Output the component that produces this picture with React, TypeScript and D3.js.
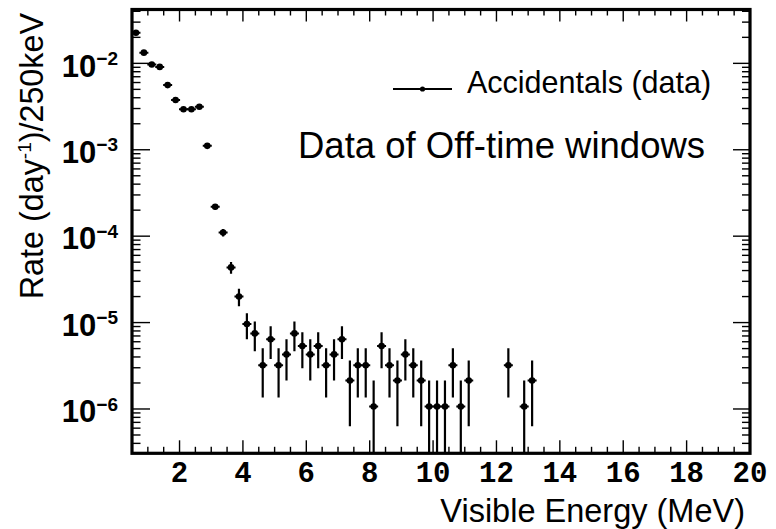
import React from "react";
import * as d3 from "d3";

const energy = [
  0.625, 0.875, 1.125, 1.375, 1.625, 1.875, 2.125, 2.375, 2.625, 2.875,
  3.125, 3.375, 3.625, 3.875, 4.125, 4.375, 4.625, 4.875, 5.125, 5.375,
  5.625, 5.875, 6.125, 6.375, 6.625, 6.875, 7.125, 7.375, 7.625, 7.875,
  8.125, 8.375, 8.625, 8.875, 9.125, 9.375, 9.625, 9.875, 10.125, 10.375,
  10.625, 10.875, 11.125, 12.375, 12.875, 13.125,
];
const rate = [
  0.0226, 0.0133, 0.0097, 0.0091, 0.0056, 0.00376, 0.00294, 0.00294, 0.00315, 0.00111,
  2.19e-4, 1.1e-4, 4.35e-5, 2.0e-5, 9.63e-6, 7.49e-6, 3.21e-6, 6.42e-6, 3.21e-6, 4.28e-6,
  7.49e-6, 5.35e-6, 4.28e-6, 5.35e-6, 3.21e-6, 4.28e-6, 6.42e-6, 2.14e-6, 3.21e-6, 3.21e-6,
  1.07e-6, 5.35e-6, 3.21e-6, 2.14e-6, 4.28e-6, 3.21e-6, 2.14e-6, 1.07e-6, 1.07e-6, 1.07e-6,
  3.21e-6, 1.07e-6, 2.14e-6, 3.21e-6, 1.07e-6, 2.14e-6,
];
const rateErr = [
  1.56e-4, 1.19e-4, 1.02e-4, 9.9e-5, 7.7e-5, 6.3e-5, 5.6e-5, 5.6e-5, 5.8e-5, 3.4e-5,
  1.53e-5, 1.08e-5, 6.8e-6, 4.6e-6, 3.21e-6, 2.83e-6, 1.85e-6, 2.62e-6, 1.85e-6, 2.14e-6,
  2.83e-6, 2.39e-6, 2.14e-6, 2.39e-6, 1.85e-6, 2.14e-6, 2.62e-6, 1.51e-6, 1.85e-6, 1.85e-6,
  1.07e-6, 2.39e-6, 1.85e-6, 1.51e-6, 2.14e-6, 1.85e-6, 1.51e-6, 1.07e-6, 1.07e-6, 1.07e-6,
  1.85e-6, 1.07e-6, 1.51e-6, 1.85e-6, 1.07e-6, 1.51e-6,
];
const xTicks = [2, 4, 6, 8, 10, 12, 14, 16, 18, 20];
const yDecades = [-2, -3, -4, -5, -6];
const legendLabel = "Accidentals (data)";
const annotation = "Data of Off-time windows";
const xTitle = "Visible Energy (MeV)";

export default function App() {
  const W = 776, H = 529;
  const left = 132, right = 750, top = 9.5, bottom = 453.3;
  const x = d3.scaleLinear().domain([0.5, 20]).range([left, right]);
  const y = d3.scaleLog().domain([3.07e-7, 0.042]).range([bottom, top]);

  const xMinor = d3.range(1, 40).map((i) => 0.5 * i).filter((v) => v >= 0.5 && v <= 20);
  const yMinor: number[] = [];
  for (let e = -7; e <= -2; e++) {
    for (let m = 1; m <= 9; m++) {
      const v = m * Math.pow(10, e);
      if (v >= 3.07e-7 && v <= 0.042) yMinor.push(v);
    }
  }

  const tickFont = "'Liberation Mono', 'Courier New', monospace";
  const sans = "'Liberation Sans', Arial, Helvetica, sans-serif";

  return (
    <svg width={W} height={H} style={{ position: "absolute", left: 0, top: 0, background: "#fff" }}>
      <defs>
        <clipPath id="plotclip">
          <rect x={left} y={top} width={right - left} height={bottom - top} />
        </clipPath>
      </defs>
      <rect x={0} y={0} width={W} height={H} fill="#fff" />
      {/* x ticks */}
      {xMinor.map((v, i) => {
        const major = Math.abs(v % 2) < 1e-9;
        const xx = x(v);
        return (
          <g key={"xt" + i} stroke="#000" strokeWidth={1.4}>
            <line x1={xx} x2={xx} y1={bottom} y2={bottom - (major ? 13 : 6.5)} />
            <line x1={xx} x2={xx} y1={top} y2={top + (major ? 12 : 6)} />
          </g>
        );
      })}
      {/* y ticks */}
      {yMinor.map((v, i) => {
        const major = Math.abs(Math.log10(v) - Math.round(Math.log10(v))) < 1e-9;
        const yy = y(v);
        return (
          <g key={"yt" + i} stroke="#000" strokeWidth={1.4}>
            <line x1={left} x2={left + (major ? 18 : 8.5)} y1={yy} y2={yy} />
            <line x1={right} x2={right - (major ? 17 : 8)} y1={yy} y2={yy} />
          </g>
        );
      })}
      {/* x tick labels */}
      {xTicks.map((v) => (
        <text key={"xl" + v} x={x(v)} y={482} textAnchor="middle" fontFamily={tickFont}
          fontWeight="bold" fontSize={29} fill="#000">{v}</text>
      ))}
      {/* y tick labels */}
      {yDecades.map((e) => (
        <text key={"yl" + e} x={118} y={y(Math.pow(10, e)) + 13.3} textAnchor="end"
          fontFamily={sans} fontWeight="bold" fontSize={31} fill="#000">
          10
          <tspan fontSize={19} dy={-11.6}>{"\u2212" + Math.abs(e)}</tspan>
        </text>
      ))}
      {/* data */}
      <g clipPath="url(#plotclip)">
        {energy.map((e, i) => {
          const v = rate[i];
          const err = rateErr[i];
          const lo = v - err > 0 ? y(v - err) : bottom + 10;
          const hi = y(v + err);
          const cx = x(e);
          const cy = y(v);
          return (
            <g key={"p" + i}>
              <line x1={cx} x2={cx} y1={lo} y2={hi} stroke="#000" strokeWidth={2.2} />
              <line x1={cx - 4.5} x2={cx + 4.5} y1={cy} y2={cy} stroke="#000" strokeWidth={2} />
              <circle cx={cx} cy={cy} r={3.3} fill="#000" />
            </g>
          );
        })}
      </g>
      {/* frame */}
      <rect x={left} y={top} width={right - left} height={bottom - top} fill="none"
        stroke="#000" strokeWidth={3.2} />
      {/* legend */}
      <line x1={393} x2={452} y1={89} y2={89} stroke="#000" strokeWidth={2} />
      <circle cx={422.5} cy={89} r={2.6} fill="#000" />
      <text x={467} y={93.3} fontFamily={sans} fontSize={30.5} fill="#000">{legendLabel}</text>
      {/* annotation */}
      <text x={298} y={158.3} fontFamily={sans} fontSize={36.5} fill="#000">{annotation}</text>
      {/* axis titles */}
      <text x={745} y={522} textAnchor="end" fontFamily={sans} fontSize={32.5} fill="#000">{xTitle}</text>
      <text transform="translate(43,13) rotate(-90)" textAnchor="end" fontFamily={sans}
        fontSize={32.3} fill="#000">
        Rate (day
        <tspan fontSize={19} dy={-12.5}>-1</tspan>
        <tspan dy={12.5}>)/250keV</tspan>
      </text>
    </svg>
  );
}
